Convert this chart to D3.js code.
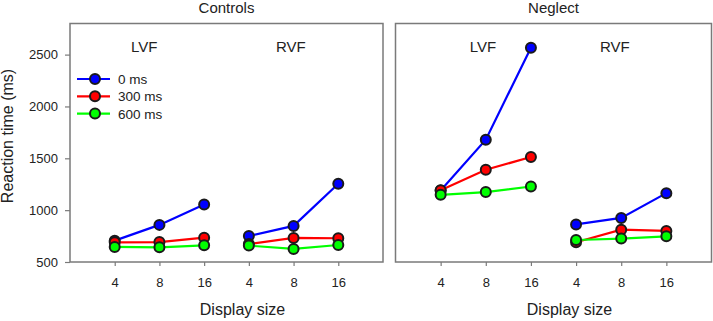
<!DOCTYPE html>
<html>
<head>
<meta charset="utf-8">
<script src="https://cdn.jsdelivr.net/npm/d3@7"></script>
<style>
  body { margin: 0; background: #fff; }
  text { font-family: "Liberation Sans", Arial, sans-serif; fill: #222; }
</style>
</head>
<body>
<svg id="chart" width="713" height="321"></svg>
<script>

// values (ms)
const sizes = [ "4", "8", "16" ];
const fields = [ "LVF", "RVF" ];
const groups = [ "Controls", "Neglect" ];
const delays = [ "0 ms", "300 ms", "600 ms" ];
const yTicks = [ 500, 1000, 1500, 2000, 2500 ];

// each row: LVF 4, 8, 16, then RVF 4, 8, 16
const controls0 = [ 706, 858, 1055, 751, 848, 1254 ];
const controls300 = [ 690, 692, 735, 674, 732, 729 ];
const controls600 = [ 645, 642, 661, 658, 626, 664 ];

const neglect0 = [ 1190, 1680, 2567, 862, 925, 1164 ];
const neglect300 = [ 1192, 1390, 1512, 690, 812, 800 ];
const neglect600 = [ 1148, 1174, 1228, 712, 726, 748 ];

const colors = [ "#0000ff", "#ff0000", "#00ff00" ];

const svg = d3.select( "#chart" );

const plotTop = 23.5, plotBottom = 262;
const panels = [
  { name: groups[ 0 ], x0: 70, x1: 383, series: [ controls0, controls300, controls600 ],
    fieldPos: [ 1.66, 4.94 ], yAxis: true },
  { name: groups[ 1 ], x0: 395.5, x1: 711.5, series: [ neglect0, neglect300, neglect600 ],
    fieldPos: [ 1.94, 4.86 ], yAxis: false }
];

const y = d3.scaleLinear()
  .domain( [ 500, 2800 ] )
  .range( [ plotBottom, plotTop ] );

const frameColor = "#7a7a7a";

panels.forEach( p => {

  const x = d3.scaleLinear()
    .domain( [ 0, 7 ] )
    .range( [ p.x0, p.x1 ] );

  const g = svg.append( "g" );

  // x axis ticks and labels
  const xAxis = d3.axisBottom( x )
    .tickValues( [ 1, 2, 3, 4, 5, 6 ] )
    .tickFormat( ( d, i ) => sizes[ i % 3 ] )
    .tickSize( 4 )
    .tickPadding( 12 );

  const xg = g.append( "g" )
    .attr( "transform", "translate(0," + plotBottom + ")" )
    .call( xAxis );
  xg.select( ".domain" ).remove();
  xg.selectAll( "line" ).attr( "stroke", frameColor ).attr( "stroke-width", 1.2 );
  xg.selectAll( "text" )
    .style( "font-size", "13px" )
    .style( "font-family", "Liberation Sans, Arial, sans-serif" )
    .attr( "fill", "#222" );

  if( p.yAxis ) {
    const yg = g.append( "g" )
      .attr( "transform", "translate(" + p.x0 + ",0)" )
      .call( d3.axisLeft( y ).tickValues( yTicks ).tickFormat( d3.format( "d" ) )
        .tickSize( 5 ).tickPadding( 7 ) );
    yg.select( ".domain" ).remove();
    yg.selectAll( "line" ).attr( "stroke", frameColor ).attr( "stroke-width", 1.2 );
    yg.selectAll( "text" )
      .style( "font-size", "13px" )
      .style( "font-family", "Liberation Sans, Arial, sans-serif" )
      .attr( "fill", "#222" );
  }

  // frame
  g.append( "rect" )
    .attr( "x", p.x0 )
    .attr( "y", plotTop )
    .attr( "width", p.x1 - p.x0 )
    .attr( "height", plotBottom - plotTop )
    .attr( "fill", "none" )
    .attr( "stroke", frameColor )
    .attr( "stroke-width", 1.5 );

  // panel title
  g.append( "text" )
    .attr( "x", ( p.x0 + p.x1 ) / 2 )
    .attr( "y", 13 )
    .attr( "text-anchor", "middle" )
    .style( "font-size", "15px" )
    .text( p.name );

  // LVF / RVF labels
  fields.forEach( ( f, i ) => {
    g.append( "text" )
      .attr( "x", x( p.fieldPos[ i ] ) )
      .attr( "y", 52 )
      .attr( "text-anchor", "middle" )
      .style( "font-size", "15px" )
      .text( f );
  } );

  // axis title
  g.append( "text" )
    .attr( "x", ( p.x0 + p.x1 ) / 2 + 16 )
    .attr( "y", 315 )
    .attr( "text-anchor", "middle" )
    .style( "font-size", "16px" )
    .text( "Display size" );

  p.series.forEach( ( vals, s ) => {
    fields.forEach( ( f, k ) => {
      const part = vals.slice( k * 3, k * 3 + 3 );
      const pos = part.map( ( v, i ) => k * 3 + i + 1 );

      g.append( "path" )
        .datum( part )
        .attr( "fill", "none" )
        .attr( "stroke", colors[ s ] )
        .attr( "stroke-width", 2.2 )
        .attr( "d", d3.line().x( ( d, i ) => x( pos[ i ] ) ).y( d => y( d ) ) );

      g.selectAll( null )
        .data( part )
        .enter().append( "circle" )
          .attr( "cx", ( d, i ) => x( pos[ i ] ) )
          .attr( "cy", d => y( d ) )
          .attr( "r", 5 )
          .attr( "fill", colors[ s ] )
          .attr( "stroke", "#1a1a1a" )
          .attr( "stroke-width", 2 );
    } );
  } );

} );

// legend
const legend = svg.append( "g" );
delays.forEach( ( d, i ) => {
  const ly = 79 + i * 17.3;
  legend.append( "line" )
    .attr( "x1", 77 ).attr( "x2", 110 )
    .attr( "y1", ly ).attr( "y2", ly )
    .attr( "stroke", colors[ i ] )
    .attr( "stroke-width", 2.2 );
  legend.append( "circle" )
    .attr( "cx", 95 ).attr( "cy", ly )
    .attr( "r", 5 )
    .attr( "fill", colors[ i ] )
    .attr( "stroke", "#1a1a1a" )
    .attr( "stroke-width", 2 );
  legend.append( "text" )
    .attr( "x", 118 )
    .attr( "y", ly + 5 )
    .style( "font-size", "13.5px" )
    .text( d );
} );

// y axis title
svg.append( "text" )
  .attr( "transform", "translate(13,136) rotate(-90)" )
  .attr( "text-anchor", "middle" )
  .style( "font-size", "16px" )
  .text( "Reaction time (ms)" );

</script>
</body>
</html>
